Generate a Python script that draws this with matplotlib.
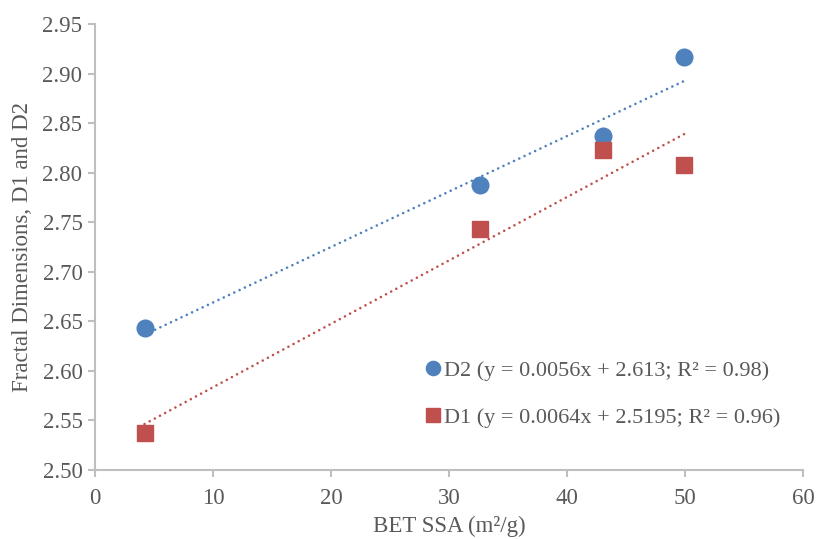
import matplotlib
matplotlib.use("Agg")
import matplotlib.pyplot as plt
import numpy as np

# Specific surface area (m2/g) and fractal dimensions
bet_ssa = [4.2, 32.6, 43.0, 49.9]
d2_values = [2.643, 2.788, 2.837, 2.917]
d1_values = [2.537, 2.743, 2.823, 2.808]

# Linear trendline fits
d2_fit = (0.0056, 2.613, 0.98)
d1_fit = (0.0064, 2.5195, 0.96)

x_ticks = [0, 10, 20, 30, 40, 50, 60]
y_ticks = [2.50, 2.55, 2.60, 2.65, 2.70, 2.75, 2.80, 2.85, 2.90, 2.95]

blue = "#4F81BD"
red = "#C0504D"
text_color = "#595959"
axis_color = "#BFBFBF"

plt.rcParams["font.family"] = ["Liberation Serif", "DejaVu Serif"]

fig = plt.figure(figsize=(8.16, 5.39), dpi=100)
ax = fig.add_axes([0.1164, 0.128, 0.868, 0.8275])

xs = np.array([min(bet_ssa), max(bet_ssa)])
dot_style = (0, (0.01, 2.2))
ax.plot(xs, d2_fit[0] * xs + d2_fit[1], color=blue, lw=1.9,
        linestyle=dot_style, dash_capstyle="round", zorder=2)
ax.plot(xs, d1_fit[0] * xs + d1_fit[1], color=red, lw=1.9,
        linestyle=dot_style, dash_capstyle="round", zorder=2)

h2, = ax.plot(bet_ssa, d2_values, linestyle="none", marker="o", markersize=12,
              color=blue, zorder=3,
              label=f"D2 (y = {d2_fit[0]}x + {d2_fit[1]}; R² = {d2_fit[2]:.2f})")
h1, = ax.plot(bet_ssa, d1_values, linestyle="none", marker="s", markersize=11.5,
              color=red, zorder=3,
              label=f"D1 (y = {d1_fit[0]}x + {d1_fit[1]}; R² = {d1_fit[2]:.2f})")

ax.set_xlim(0, 60)
ax.set_ylim(2.50, 2.95)
ax.set_xticks(x_ticks)
ax.set_yticks(y_ticks)
ax.set_yticklabels([f"{v:.2f}" for v in y_ticks])

for side in ("top", "right"):
    ax.spines[side].set_visible(False)
for side in ("left", "bottom"):
    ax.spines[side].set_color(axis_color)
    ax.spines[side].set_linewidth(1.5)

ax.tick_params(axis="both", direction="out", length=5, width=1.5,
               color=axis_color, labelcolor=text_color, labelsize=16.5)
ax.tick_params(axis="x", pad=8)
ax.tick_params(axis="y", pad=4)

ax.set_xlabel("BET SSA (m²/g)", fontsize=16.5, color=text_color, labelpad=5)
ax.set_ylabel("Fractal Dimensions, D1 and D2", fontsize=16.5, color=text_color, labelpad=7)

leg = ax.legend(handles=[h2, h1], loc="upper left", bbox_to_anchor=(0.451, 0.266),
                frameon=False, fontsize=16, labelcolor=text_color,
                handletextpad=0.05, handlelength=0.9, labelspacing=1.2,
                markerscale=0.85, borderaxespad=0)

fig.savefig("out.png", dpi=100)
